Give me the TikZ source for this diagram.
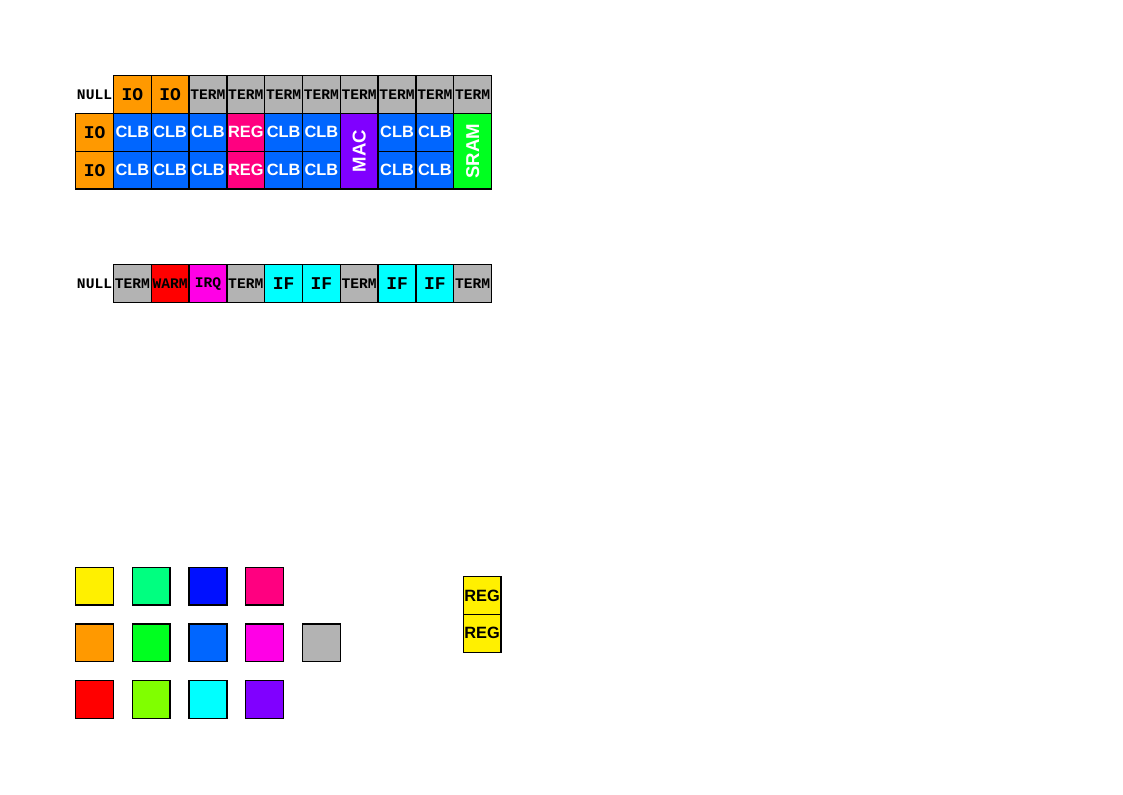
\documentclass[tikz,border=0pt]{standalone}
\usepackage{fontspec}
\setmainfont{Liberation Sans}
\newfontfamily\monof{Liberation Mono}
\definecolor{cOrange}{RGB}{255,153,0}
\definecolor{cGray}{RGB}{179,179,179}
\definecolor{cBlue}{RGB}{0,102,255}
\definecolor{cPink}{RGB}{255,0,128}
\definecolor{cPurple}{RGB}{128,0,255}
\definecolor{cGreen}{RGB}{0,255,32}
\definecolor{cRed}{RGB}{255,0,0}
\definecolor{cMagenta}{RGB}{255,0,230}
\definecolor{cCyan}{RGB}{0,255,255}
\definecolor{cYellow}{RGB}{255,240,0}
\definecolor{cSpring}{RGB}{0,255,128}
\definecolor{cDeepBlue}{RGB}{0,16,255}
\definecolor{cChart}{RGB}{128,255,0}
\tikzset{
  cell/.style={draw=black, line width=1pt, minimum size=1cm, inner sep=0pt},
  tall/.style={draw=black, line width=1pt, inner sep=0pt, minimum width=2cm, minimum height=1cm},
  monos/.style={font=\monof\bfseries\fontsize{11}{11}\selectfont},
  monol/.style={font=\monof\bfseries\fontsize{13.5}{13.5}\selectfont},
  sansb/.style={font=\bfseries\fontsize{12.3}{12.3}\selectfont},
  sansbig/.style={font=\bfseries\fontsize{14}{14}\selectfont},
  lbl/.style={inner sep=0pt, monos},
  term/.style={cell, fill=cGray, monos},
  io/.style={cell, fill=cOrange, monol},
  clb/.style={cell, fill=cBlue, text=white, sansb},
  reg/.style={cell, fill=cPink, text=white, sansb},
  ifc/.style={cell, fill=cCyan, monol},
  swatch/.style={cell}
}
\begin{document}
\begin{tikzpicture}
\useasboundingbox (0,0) rectangle (29.7,21);
% top grid, row 0
\node[lbl] (n0) at (2.5,18.5) {NULL};
\node[io] (a1) at (3.5,18.5) {IO};
\node[io] (a2) at (4.5,18.5) {IO};
\foreach \i in {3,...,10} {
  \node[term] (a\i) at (\i+2.5,18.5) {TERM};
}
% rows 1 and 2
\foreach \r/\y in {1/17.5,2/16.5} {
  \node[io] (b\r0) at (2.5,\y) {IO};
  \node[clb] (b\r1) at (3.5,\y) {CLB};
  \node[clb] (b\r2) at (4.5,\y) {CLB};
  \node[clb] (b\r3) at (5.5,\y) {CLB};
  \node[reg] (b\r4) at (6.5,\y) {REG};
  \node[clb] (b\r5) at (7.5,\y) {CLB};
  \node[clb] (b\r6) at (8.5,\y) {CLB};
  \node[clb] (b\r8) at (10.5,\y) {CLB};
  \node[clb] (b\r9) at (11.5,\y) {CLB};
}
\node[tall, fill=cPurple, text=white, sansbig, rotate=90] (mac) at (9.5,17) {MAC};
\node[tall, fill=cGreen, text=white, sansbig, rotate=90] (sram) at (12.5,17) {SRAM};
% second grid
\node[lbl] (n1) at (2.5,13.5) {NULL};
\node[term] (c1) at (3.5,13.5) {TERM};
\node[cell, fill=cRed, monos] (c2) at (4.5,13.5) {WARM};
\node[cell, fill=cMagenta, monos] (c3) at (5.5,13.5) {IRQ};
\node[term] (c4) at (6.5,13.5) {TERM};
\node[ifc] (c5) at (7.5,13.5) {IF};
\node[ifc] (c6) at (8.5,13.5) {IF};
\node[term] (c7) at (9.5,13.5) {TERM};
\node[ifc] (c8) at (10.5,13.5) {IF};
\node[ifc] (c9) at (11.5,13.5) {IF};
\node[term] (c10) at (12.5,13.5) {TERM};
% palette
\node[swatch, fill=cYellow] (p11) at (2.5,5.5) {};
\node[swatch, fill=cSpring] (p12) at (4,5.5) {};
\node[swatch, fill=cDeepBlue] (p13) at (5.5,5.5) {};
\node[swatch, fill=cPink] (p14) at (7,5.5) {};
\node[swatch, fill=cOrange] (p21) at (2.5,4) {};
\node[swatch, fill=cGreen] (p22) at (4,4) {};
\node[swatch, fill=cBlue] (p23) at (5.5,4) {};
\node[swatch, fill=cMagenta] (p24) at (7,4) {};
\node[swatch, fill=cGray] (p25) at (8.5,4) {};
\node[swatch, fill=cRed] (p31) at (2.5,2.5) {};
\node[swatch, fill=cChart] (p32) at (4,2.5) {};
\node[swatch, fill=cCyan] (p33) at (5.5,2.5) {};
\node[swatch, fill=cPurple] (p34) at (7,2.5) {};
% REG stack
\node[cell, fill=cYellow, sansb] (r1) at (12.75,5.25) {REG};
\node[cell, fill=cYellow, sansb] (r2) at (12.75,4.25) {REG};
\end{tikzpicture}
\end{document}
